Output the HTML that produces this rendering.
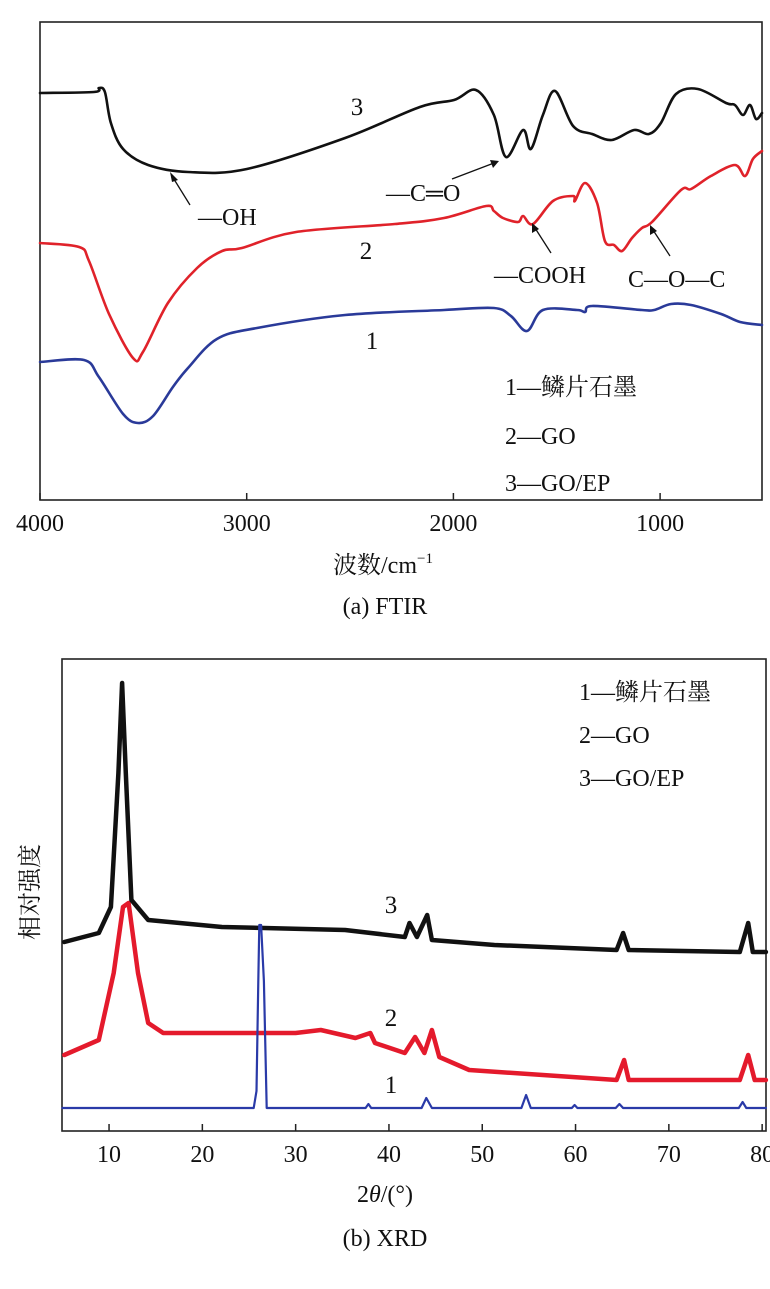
<!DOCTYPE html>
<html><head><meta charset="utf-8">
<style>
html,body{margin:0;padding:0;background:#fff;}
svg{display:block;}
text{font-family:"Liberation Serif","Noto Serif CJK SC","Noto Sans CJK SC",serif;fill:#111;}
</style></head>
<body>
<svg id="fig" width="770" height="1289" viewBox="0 0 770 1289" xmlns="http://www.w3.org/2000/svg">
  <g id="ftir">
    <rect x="40" y="22" width="722" height="478" fill="none" stroke="#222" stroke-width="1.6"/>
    <g id="ftir-ticks"></g>
    <g id="ftir-lines"></g>
    <text x="357" y="115" font-size="25" text-anchor="middle">3</text>
    <text x="366" y="259" font-size="25" text-anchor="middle">2</text>
    <text x="372" y="349" font-size="25" text-anchor="middle">1</text>
    <g>
      <line x1="190" y1="205" x2="172" y2="176" stroke="#111" stroke-width="1.3"/>
      <polygon points="170,172 178,180 172,182" fill="#111"/>
      <text x="198" y="225" font-size="24">—OH</text>
    </g>
    <g>
      <line x1="452" y1="179" x2="494" y2="163" stroke="#111" stroke-width="1.3"/>
      <polygon points="499,161 490,160 493,168" fill="#111"/>
      <text x="386" y="201" font-size="24">—C═O</text>
    </g>
    <g>
      <line x1="551" y1="253" x2="535" y2="228" stroke="#111" stroke-width="1.3"/>
      <polygon points="532,223 532,233 539,229" fill="#111"/>
      <text x="494" y="283" font-size="24">—COOH</text>
    </g>
    <g>
      <line x1="670" y1="256" x2="653" y2="230" stroke="#111" stroke-width="1.3"/>
      <polygon points="650,225 650,235 657,231" fill="#111"/>
      <text x="628" y="287" font-size="24">C—O—C</text>
    </g>
    <g>
      <text x="505" y="395" font-size="24">1—鳞片石墨</text>
      <text x="505" y="444" font-size="24">2—GO</text>
      <text x="505" y="491" font-size="24">3—GO/EP</text>
    </g>
    <text x="383" y="573" font-size="24" text-anchor="middle">波数/cm<tspan font-size="15" dy="-10">−1</tspan></text>
    <text x="385" y="614" font-size="24" text-anchor="middle">(a) FTIR</text>
  </g>

  <g id="xrd">
    <rect x="62" y="659" width="704" height="472" fill="none" stroke="#222" stroke-width="1.6"/>
    <g id="xrd-ticks"></g>
    <g id="xrd-lines"></g>
    <text x="391" y="913" font-size="25" text-anchor="middle">3</text>
    <text x="391" y="1026" font-size="25" text-anchor="middle">2</text>
    <text x="391" y="1093" font-size="25" text-anchor="middle">1</text>
    <g>
      <text x="579" y="700" font-size="24">1—鳞片石墨</text>
      <text x="579" y="743" font-size="24">2—GO</text>
      <text x="579" y="786" font-size="24">3—GO/EP</text>
    </g>
    <text transform="translate(38,892) rotate(-90)" font-size="24" text-anchor="middle">相对强度</text>
    <text x="385" y="1202" font-size="24" text-anchor="middle">2<tspan font-style="italic">θ</tspan>/(°)</text>
    <text x="385" y="1246" font-size="24" text-anchor="middle">(b) XRD</text>
  </g>
</svg>
<script>
// ---------- FTIR data ----------
const ftirTicks = [4000, 3000, 2000, 1000];
const ftirWn3 = [4000,3739,3715,3686,3657,3598,3477,3284,2999,2524,2162,1997,1891,1804,1746,1663,1625,1567,1508,1421,1329,1233,1126,1054,996,923,817,681,638,599,565,536,507];
const ftirT3  = [407,408,412,408,377,351,335,328,331,362,393,400,410,385,343,370,351,385,409,374,366,360,370,366,377,406,411,397,395,385,395,381,387];
const ftirWn2 = [4000,3811,3763,3666,3550,3502,3381,3240,3119,3023,2761,2283,2045,1842,1804,1760,1687,1663,1615,1518,1421,1412,1363,1305,1267,1223,1184,1136,1088,1039,899,850,754,638,589,551,507];
const ftirT2  = [257,253,239,186,142,148,197,232,249,252,268,276,282,294,289,282,278,284,276,299,304,299,317,297,259,255,249,262,272,278,310,311,324,335,324,341,349];
const ftirWn1 = [4000,3787,3715,3598,3526,3453,3357,3284,3144,2950,2524,2045,1804,1722,1644,1567,1402,1363,1329,1088,1029,947,850,705,613,507];
const ftirT1  = [138,140,123,86,77,84,113,132,161,172,185,190,192,184,169,190,190,188,194,190,190,196,195,186,178,175];

// ---------- XRD data ----------
const xrdTicks = [10,20,30,40,50,60,70,80];
const xrdT3 = [5.2,8.9,10.2,11.0,11.4,11.8,12.4,14.2,22.1,35.3,41.7,42.2,43.0,44.1,44.6,51.3,64.4,65.1,65.7,77.6,78.5,79.0,80.4];
const xrdI3 = [189,198,224,358,448,358,231,211,204,201,194,208,194,216,191,186,181,198,181,179,208,179,179];
const xrdT2 = [5.2,8.9,10.5,11.5,12.1,13.1,14.2,15.8,30.0,32.7,36.4,38.0,38.5,41.7,42.8,43.8,44.6,45.4,48.6,56.5,64.4,65.2,65.7,77.6,78.5,79.2,80.4];
const xrdI2 = [76,91,158,224,228,158,108,98,98,101,93,98,88,78,94,78,101,74,61,56,51,71,51,51,76,51,51];
const xrdT1 = [5,25.5,25.8,26.0,26.1,26.3,26.6,26.9,37.5,37.8,38.1,43.5,44.0,44.6,54.2,54.7,55.2,59.6,59.9,60.2,64.3,64.7,65.1,77.5,77.9,78.3,80.4];
const xrdI1 = [23,23,40,150,206,206,150,23,23,27,23,23,33,23,23,36,23,23,26,23,23,27,23,23,29,23,23];

const NS = "http://www.w3.org/2000/svg";
function fx(w){ return 40 + (4000 - w) * 0.2067; }
function fy(v){ return 500 - v; }
function xx(t){ return 62.4 + (t - 5) * 9.33; }
function xy(v){ return 1131 - v; }

function drawLine(parent, xs, ys, sx, sy, color, width, name, smooth){
  const p = document.createElementNS(NS, "path");
  const pts = xs.map((x, i) => [sx(x), sy(ys[i])]);
  let d = "M" + pts[0][0].toFixed(1) + "," + pts[0][1].toFixed(1);
  for (let i = 1; i < pts.length; i++) {
    if (smooth) {
      const p0 = pts[Math.max(0, i - 2)], p1 = pts[i - 1], p2 = pts[i], p3 = pts[Math.min(pts.length - 1, i + 1)];
      const k = 6;
      const c1x = p1[0] + (p2[0] - p0[0]) / k, c1y = p1[1] + (p2[1] - p0[1]) / k;
      const c2x = p2[0] - (p3[0] - p1[0]) / k, c2y = p2[1] - (p3[1] - p1[1]) / k;
      d += "C" + c1x.toFixed(1) + "," + c1y.toFixed(1) + " " + c2x.toFixed(1) + "," + c2y.toFixed(1) + " " + p2[0].toFixed(1) + "," + p2[1].toFixed(1);
    } else {
      d += "L" + pts[i][0].toFixed(1) + "," + pts[i][1].toFixed(1);
    }
  }
  p.setAttribute("d", d);
  p.setAttribute("fill", "none");
  p.setAttribute("stroke", color);
  p.setAttribute("stroke-width", width);
  p.setAttribute("stroke-linejoin", "round");
  p.setAttribute("stroke-linecap", "round");
  
  
  parent.appendChild(p);
}

function drawTicks(parent, ticks, sx, yAxis, labelY, name){
  ticks.forEach(t => {
    const x = sx(t);
    const l = document.createElementNS(NS, "line");
    l.setAttribute("x1", x); l.setAttribute("x2", x);
    l.setAttribute("y1", yAxis); l.setAttribute("y2", yAxis - 7);
    l.setAttribute("stroke", "#222"); l.setAttribute("stroke-width", "1.5");
    
    
    parent.appendChild(l);
    const tx = document.createElementNS(NS, "text");
    tx.setAttribute("x", x); tx.setAttribute("y", labelY);
    tx.setAttribute("font-size", "24"); tx.setAttribute("text-anchor", "middle");
    tx.textContent = t;
    
    
    parent.appendChild(tx);
  });
}

const fl = document.getElementById("ftir-lines");
drawLine(fl, ftirWn1, ftirT1, fx, fy, "#2a3a99", 2.6, "ftir-curve-1", true);
drawLine(fl, ftirWn2, ftirT2, fx, fy, "#e0222a", 2.6, "ftir-curve-2", true);
drawLine(fl, ftirWn3, ftirT3, fx, fy, "#111111", 2.6, "ftir-curve-3", true);
drawTicks(document.getElementById("ftir-ticks"), ftirTicks, fx, 500, 531, "ftir-x");

const xl = document.getElementById("xrd-lines");
drawLine(xl, xrdT2, xrdI2, xx, xy, "#e41a2c", 4.5, "xrd-curve-2", false);
drawLine(xl, xrdT3, xrdI3, xx, xy, "#111111", 4.5, "xrd-curve-3", false);
drawLine(xl, xrdT1, xrdI1, xx, xy, "#2a3aa8", 2.2, "xrd-curve-1", false);
drawTicks(document.getElementById("xrd-ticks"), xrdTicks, xx, 1131, 1162, "xrd-x");
</script>
</body></html>
